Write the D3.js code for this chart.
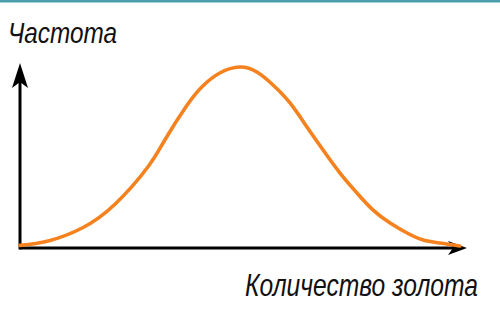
<!DOCTYPE html>
<html><head><meta charset="utf-8">
<script src="https://cdn.jsdelivr.net/npm/d3@7"></script>
<style>html,body{margin:0;padding:0;background:#fff;}svg{display:block;}</style>
</head><body>
<svg id="c" width="500" height="327"></svg>
<script>
const amount = [0, 6.3, 13.9, 21.3, 28.6, 32.4, 37.4, 40.9, 44.7, 49.2, 53, 56.6, 60.4, 64.2, 67.8, 71.6, 75.4, 79, 82.8, 86.6, 90.2, 94, 98.4];
const frequency = [1.4, 3.8, 10.8, 23.8, 43.8, 58.4, 77.3, 87.6, 94.6, 97.8, 95.1, 88.1, 78.4, 65.4, 53, 40.5, 29.7, 20.5, 13.5, 8.1, 4.3, 2.7, 1.1];
const yLabel = "Частота";
const xLabel = "Количество золота";

const svg = d3.select("#c");
const x = d3.scaleLinear().domain([0, 100]).range([20, 467]);
const y = d3.scaleLinear().domain([0, 100]).range([248, 63]);

// top teal rule
svg.append("rect").attr("x", 0).attr("y", 0).attr("width", 500).attr("height", 2.5).attr("fill", "#4a9fae");

// axes
svg.append("line").attr("x1", x(0)).attr("x2", x(100) - 12).attr("y1", y(0)).attr("y2", y(0))
  .attr("stroke", "#000").attr("stroke-width", 3);
svg.append("line").attr("x1", x(0)).attr("x2", x(0)).attr("y1", y(0) + 1.5).attr("y2", y(100) + 14)
  .attr("stroke", "#000").attr("stroke-width", 3);

// arrowheads
const tx = x(100), ty = y(0);
svg.append("path").attr("d", `M${tx},${ty} L${tx-19},${ty-7} L${tx-14},${ty} L${tx-19},${ty+7} Z`).attr("fill", "#000");
const ux = x(0), uy = y(100);
svg.append("path").attr("d", `M${ux},${uy} L${ux-8},${uy+25} L${ux},${uy+19} L${ux+8},${uy+25} Z`).attr("fill", "#000");

// curve
const pts = amount.map((a, i) => [a, frequency[i]]);
const line = d3.line().x(d => x(d[0])).y(d => y(d[1])).curve(d3.curveNatural);
svg.append("path").datum(pts).attr("d", line).attr("fill", "none")
  .attr("stroke", "#f5821f").attr("stroke-width", 3.6).attr("stroke-linecap", "round");

// labels (condensed italic, scaled to the reference width)
function label(text, x0, y0, size, width) {
  const g = svg.append("g");
  const t = g.append("text").attr("x", 0).attr("y", 0).text(text)
    .attr("font-family", "Liberation Sans, Arial, sans-serif").attr("font-style", "italic")
    .attr("font-size", size).attr("fill", "#111");
  const w = t.node().getComputedTextLength();
  g.attr("transform", `translate(${x0},${y0}) scale(${width / w},1)`);
}
label(yLabel, 8, 43, 29, 109);
label(xLabel, 245, 296, 31, 233);
</script>
</body></html>
